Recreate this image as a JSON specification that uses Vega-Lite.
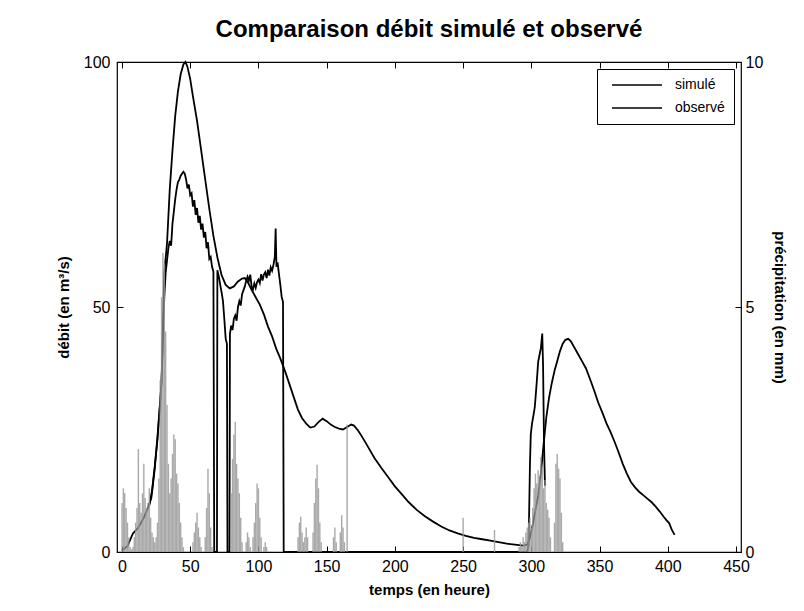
{
  "$schema": "https://vega.github.io/schema/vega-lite/v6.json",
  "width": 624,
  "height": 490,
  "autosize": {"type": "none"},
  "padding": {"left": 117, "top": 62, "right": 63, "bottom": 59},
  "background": "white",
  "config": {
    "font": "Liberation Sans",
    "view": {"stroke": "black", "strokeWidth": 1.2},
    "axis": {"grid": false, "domain": false, "tickColor": "black", "tickSize": -6, "tickWidth": 1, "labelColor": "black", "labelFontSize": 16, "titleFontSize": 15, "titleFontWeight": "bold", "titleColor": "black", "labelFlush": false},
    "legend": {"orient": "top-right", "offset": 7, "padding": 9, "strokeColor": "black", "fillColor": "white", "labelFontSize": 14, "labelColor": "black", "symbolType": "M-1,0H49", "symbolSize": 4, "symbolStrokeWidth": 1.5, "symbolStrokeColor": "black", "labelOffset": 55, "rowPadding": 9, "cornerRadius": 0}
  },
  "title": {"text": "Comparaison débit simulé et observé", "fontSize": 24, "fontWeight": "bold", "color": "black", "offset": 12, "anchor": "middle"},
  "datasets": {
    "debit": [
      {"t":0,"v":0.3,"s":"simulé"},{"t":4,"v":1.2,"s":"simulé"},{"t":8,"v":3.8,"s":"simulé"},{"t":12,"v":5,"s":"simulé"},{"t":16,"v":7,"s":"simulé"},{"t":19,"v":9,"s":"simulé"},{"t":21.5,"v":11,"s":"simulé"},{"t":24,"v":17,"s":"simulé"},{"t":26,"v":23.5,"s":"simulé"},{"t":28,"v":30.5,"s":"simulé"},{"t":29,"v":35,"s":"simulé"},{"t":30,"v":46,"s":"simulé"},{"t":31,"v":57,"s":"simulé"},{"t":33,"v":63,"s":"simulé"},{"t":35,"v":74,"s":"simulé"},{"t":37,"v":82,"s":"simulé"},{"t":39,"v":89,"s":"simulé"},{"t":41,"v":94,"s":"simulé"},{"t":43,"v":97.5,"s":"simulé"},{"t":45,"v":99.5,"s":"simulé"},{"t":46.5,"v":100,"s":"simulé"},{"t":48,"v":99,"s":"simulé"},{"t":50,"v":96.5,"s":"simulé"},{"t":52,"v":93,"s":"simulé"},{"t":55,"v":88,"s":"simulé"},{"t":58,"v":82,"s":"simulé"},{"t":61,"v":76,"s":"simulé"},{"t":64,"v":70,"s":"simulé"},{"t":67,"v":64.5,"s":"simulé"},{"t":70,"v":60,"s":"simulé"},{"t":73,"v":56.5,"s":"simulé"},{"t":76,"v":54.5,"s":"simulé"},{"t":79,"v":53.8,"s":"simulé"},{"t":82,"v":54.2,"s":"simulé"},{"t":85,"v":55.2,"s":"simulé"},{"t":88,"v":55.8,"s":"simulé"},{"t":90,"v":55.9,"s":"simulé"},{"t":92,"v":55.2,"s":"simulé"},{"t":95,"v":53.5,"s":"simulé"},{"t":98,"v":52,"s":"simulé"},{"t":101,"v":50.5,"s":"simulé"},{"t":104,"v":48.5,"s":"simulé"},{"t":107,"v":46,"s":"simulé"},{"t":110,"v":44,"s":"simulé"},{"t":113,"v":41.5,"s":"simulé"},{"t":116,"v":39.5,"s":"simulé"},{"t":120,"v":36.5,"s":"simulé"},{"t":123,"v":34,"s":"simulé"},{"t":126,"v":31.5,"s":"simulé"},{"t":129,"v":29,"s":"simulé"},{"t":132,"v":27.3,"s":"simulé"},{"t":135,"v":26.2,"s":"simulé"},{"t":138,"v":25.4,"s":"simulé"},{"t":141,"v":25.6,"s":"simulé"},{"t":144,"v":26.5,"s":"simulé"},{"t":147,"v":27.2,"s":"simulé"},{"t":150,"v":26.7,"s":"simulé"},{"t":153,"v":26,"s":"simulé"},{"t":156,"v":25.5,"s":"simulé"},{"t":159,"v":25.2,"s":"simulé"},{"t":162,"v":25,"s":"simulé"},{"t":165,"v":25.5,"s":"simulé"},{"t":168,"v":26,"s":"simulé"},{"t":170,"v":25.8,"s":"simulé"},{"t":173,"v":24.8,"s":"simulé"},{"t":176,"v":23.5,"s":"simulé"},{"t":180,"v":21.6,"s":"simulé"},{"t":185,"v":19.2,"s":"simulé"},{"t":190,"v":17.2,"s":"simulé"},{"t":195,"v":15.3,"s":"simulé"},{"t":200,"v":13.4,"s":"simulé"},{"t":205,"v":11.8,"s":"simulé"},{"t":210,"v":10.2,"s":"simulé"},{"t":216,"v":8.6,"s":"simulé"},{"t":222,"v":7.3,"s":"simulé"},{"t":228,"v":6.2,"s":"simulé"},{"t":234,"v":5.2,"s":"simulé"},{"t":240,"v":4.4,"s":"simulé"},{"t":246,"v":3.8,"s":"simulé"},{"t":252,"v":3.3,"s":"simulé"},{"t":258,"v":2.9,"s":"simulé"},{"t":264,"v":2.6,"s":"simulé"},{"t":270,"v":2.3,"s":"simulé"},{"t":276,"v":2,"s":"simulé"},{"t":282,"v":1.7,"s":"simulé"},{"t":288,"v":1.5,"s":"simulé"},{"t":294,"v":1.3,"s":"simulé"},{"t":297,"v":1.5,"s":"simulé"},{"t":299,"v":3,"s":"simulé"},{"t":301,"v":5.5,"s":"simulé"},{"t":303,"v":8.5,"s":"simulé"},{"t":305,"v":11.5,"s":"simulé"},{"t":307,"v":16,"s":"simulé"},{"t":309,"v":22,"s":"simulé"},{"t":311,"v":27.5,"s":"simulé"},{"t":313,"v":31.5,"s":"simulé"},{"t":315,"v":34.5,"s":"simulé"},{"t":317,"v":37,"s":"simulé"},{"t":319,"v":39,"s":"simulé"},{"t":321,"v":41,"s":"simulé"},{"t":323,"v":42.5,"s":"simulé"},{"t":325,"v":43.3,"s":"simulé"},{"t":327,"v":43.5,"s":"simulé"},{"t":329,"v":43,"s":"simulé"},{"t":331,"v":42,"s":"simulé"},{"t":334,"v":40.5,"s":"simulé"},{"t":337,"v":39,"s":"simulé"},{"t":340,"v":37.5,"s":"simulé"},{"t":343,"v":35.3,"s":"simulé"},{"t":346,"v":33,"s":"simulé"},{"t":349,"v":30.5,"s":"simulé"},{"t":352,"v":28.5,"s":"simulé"},{"t":355,"v":26.3,"s":"simulé"},{"t":358,"v":24.5,"s":"simulé"},{"t":361,"v":22.5,"s":"simulé"},{"t":364,"v":20.3,"s":"simulé"},{"t":367,"v":18,"s":"simulé"},{"t":370,"v":16,"s":"simulé"},{"t":373,"v":14.3,"s":"simulé"},{"t":376,"v":13.2,"s":"simulé"},{"t":379,"v":12.3,"s":"simulé"},{"t":382,"v":11.6,"s":"simulé"},{"t":385,"v":10.9,"s":"simulé"},{"t":388,"v":10.2,"s":"simulé"},{"t":391,"v":9.3,"s":"simulé"},{"t":394,"v":8.3,"s":"simulé"},{"t":397,"v":7.2,"s":"simulé"},{"t":399,"v":6.5,"s":"simulé"},{"t":401,"v":5.9,"s":"simulé"},{"t":402,"v":5.2,"s":"simulé"},{"t":403,"v":4.5,"s":"simulé"},{"t":404,"v":4,"s":"simulé"},{"t":405,"v":3.5,"s":"simulé"},
      {"t":20,"v":9.5,"s":"observé"},{"t":22,"v":12.5,"s":"observé"},{"t":24,"v":17.5,"s":"observé"},{"t":26,"v":23,"s":"observé"},{"t":28,"v":31,"s":"observé"},{"t":29,"v":34.5,"s":"observé"},{"t":30,"v":44,"s":"observé"},{"t":31,"v":52,"s":"observé"},{"t":32,"v":57,"s":"observé"},{"t":33,"v":59.5,"s":"observé"},{"t":34,"v":62,"s":"observé"},{"t":35,"v":63.5,"s":"observé"},{"t":36,"v":62.5,"s":"observé"},{"t":37,"v":67,"s":"observé"},{"t":38,"v":69.5,"s":"observé"},{"t":39,"v":72,"s":"observé"},{"t":40,"v":74,"s":"observé"},{"t":41,"v":75.5,"s":"observé"},{"t":42,"v":76,"s":"observé"},{"t":43,"v":76.8,"s":"observé"},{"t":44,"v":77.2,"s":"observé"},{"t":45,"v":77.6,"s":"observé"},{"t":46,"v":77.2,"s":"observé"},{"t":47,"v":76,"s":"observé"},{"t":48,"v":74.2,"s":"observé"},{"t":49,"v":75,"s":"observé"},{"t":50,"v":72.8,"s":"observé"},{"t":51,"v":73.2,"s":"observé"},{"t":52,"v":70.5,"s":"observé"},{"t":53,"v":71.8,"s":"observé"},{"t":54,"v":68.8,"s":"observé"},{"t":55,"v":70.2,"s":"observé"},{"t":56,"v":67.2,"s":"observé"},{"t":57,"v":68.6,"s":"observé"},{"t":58,"v":65.8,"s":"observé"},{"t":59,"v":67,"s":"observé"},{"t":60,"v":64.2,"s":"observé"},{"t":61,"v":65.3,"s":"observé"},{"t":62,"v":62,"s":"observé"},{"t":63,"v":63.2,"s":"observé"},{"t":64,"v":59.8,"s":"observé"},{"t":65,"v":60.2,"s":"observé"},{"t":66,"v":58.2,"s":"observé"},{"t":67,"v":57.2,"s":"observé"},{"t":67.6,"v":0,"s":"observé"},{"t":69.6,"v":0,"s":"observé"},{"t":69.9,"v":57.5,"s":"observé"},{"t":71,"v":56.2,"s":"observé"},{"t":72,"v":54.5,"s":"observé"},{"t":73,"v":53,"s":"observé"},{"t":74,"v":51.2,"s":"observé"},{"t":75,"v":47.5,"s":"observé"},{"t":76,"v":43.5,"s":"observé"},{"t":76.9,"v":42.5,"s":"observé"},{"t":77.3,"v":0,"s":"observé"},{"t":78.8,"v":0,"s":"observé"},{"t":79.1,"v":44.5,"s":"observé"},{"t":80,"v":46.2,"s":"observé"},{"t":81,"v":45.3,"s":"observé"},{"t":82,"v":47.6,"s":"observé"},{"t":83,"v":48.3,"s":"observé"},{"t":84,"v":47.2,"s":"observé"},{"t":85,"v":50,"s":"observé"},{"t":86,"v":51.2,"s":"observé"},{"t":87,"v":50.3,"s":"observé"},{"t":88,"v":52.6,"s":"observé"},{"t":89,"v":53.4,"s":"observé"},{"t":90,"v":54.2,"s":"observé"},{"t":91,"v":55.3,"s":"observé"},{"t":92,"v":56.2,"s":"observé"},{"t":93,"v":55.4,"s":"observé"},{"t":94,"v":56.6,"s":"observé"},{"t":95,"v":54.2,"s":"observé"},{"t":96,"v":53.6,"s":"observé"},{"t":97,"v":54.8,"s":"observé"},{"t":98,"v":53.9,"s":"observé"},{"t":99,"v":55.1,"s":"observé"},{"t":100,"v":55.6,"s":"observé"},{"t":101,"v":54.9,"s":"observé"},{"t":102,"v":56.7,"s":"observé"},{"t":103,"v":55.4,"s":"observé"},{"t":104,"v":56.6,"s":"observé"},{"t":105,"v":57.1,"s":"observé"},{"t":106,"v":55.9,"s":"observé"},{"t":107,"v":57.6,"s":"observé"},{"t":108,"v":56.4,"s":"observé"},{"t":109,"v":58.1,"s":"observé"},{"t":110,"v":57.4,"s":"observé"},{"t":111,"v":58.6,"s":"observé"},{"t":112,"v":60.2,"s":"observé"},{"t":112.6,"v":66,"s":"observé"},{"t":113.2,"v":58.2,"s":"observé"},{"t":114,"v":59.1,"s":"observé"},{"t":115,"v":56.8,"s":"observé"},{"t":116,"v":54.6,"s":"observé"},{"t":117,"v":52.1,"s":"observé"},{"t":118,"v":51,"s":"observé"},{"t":118.5,"v":0,"s":"observé"},{"t":297,"v":0,"s":"observé"},{"t":298,"v":1.5,"s":"observé"},{"t":299,"v":18,"s":"observé"},{"t":299.6,"v":24,"s":"observé"},{"t":300.5,"v":26.2,"s":"observé"},{"t":301.5,"v":27.8,"s":"observé"},{"t":302.5,"v":29.5,"s":"observé"},{"t":303,"v":31.2,"s":"observé"},{"t":304,"v":34.8,"s":"observé"},{"t":305,"v":38.8,"s":"observé"},{"t":306,"v":40.2,"s":"observé"},{"t":307,"v":41.6,"s":"observé"},{"t":308,"v":44.6,"s":"observé"},{"t":308.6,"v":38,"s":"observé"},{"t":309.3,"v":22,"s":"observé"},{"t":310,"v":13.5,"s":"observé"}
    ],
    "pluie": [
      {"t":0,"p":1.0},{"t":1,"p":1.3},{"t":2,"p":1.2},{"t":3,"p":0.9},{"t":4,"p":0.6},{"t":5,"p":0.3},{"t":6,"p":0.1},{"t":7,"p":0.05},{"t":8,"p":0.1},{"t":9,"p":0.3},{"t":10,"p":0.6},{"t":11,"p":0.9},{"t":12,"p":2.1},{"t":13,"p":1.0},{"t":14,"p":0.8},{"t":15,"p":1.2},{"t":16,"p":1.8},{"t":17,"p":1.1},{"t":18,"p":0.9},{"t":19,"p":1.0},{"t":20,"p":1.3},{"t":21,"p":0.7},{"t":22,"p":0.4},{"t":23,"p":0.3},{"t":24,"p":0.2},{"t":25,"p":0.3},{"t":26,"p":0.6},{"t":27,"p":1.5},{"t":28,"p":3.5},{"t":29,"p":5.2},{"t":30,"p":6.1},{"t":31,"p":5.9},{"t":32,"p":4.5},{"t":33,"p":3.0},{"t":34,"p":1.8},{"t":35,"p":1.2},{"t":36,"p":1.5},{"t":37,"p":2.0},{"t":38,"p":2.4},{"t":39,"p":2.3},{"t":40,"p":1.6},{"t":41,"p":1.4},{"t":42,"p":1.0},{"t":43,"p":0.6},{"t":44,"p":0.3},{"t":45,"p":0.1},
      {"t":52,"p":0.2},{"t":53,"p":0.4},{"t":54,"p":0.6},{"t":55,"p":0.8},{"t":56,"p":0.5},{"t":57,"p":0.3},{"t":58,"p":0.1},{"t":61,"p":0.3},{"t":62,"p":0.9},{"t":63,"p":1.7},{"t":64,"p":1.2},{"t":65,"p":0.5},{"t":66,"p":0.1},
      {"t":80,"p":1.2},{"t":81,"p":1.9},{"t":82,"p":2.4},{"t":83,"p":2.66},{"t":84,"p":1.8},{"t":85,"p":1.5},{"t":86,"p":1.2},{"t":87,"p":0.7},{"t":88,"p":0.2},{"t":91,"p":0.2},{"t":92,"p":0.4},{"t":93,"p":0.3},{"t":94,"p":0.1},{"t":96,"p":0.3},{"t":97,"p":0.6},{"t":98,"p":1.0},{"t":99,"p":1.4},{"t":100,"p":1.3},{"t":101,"p":0.7},{"t":102,"p":0.3},{"t":104,"p":0.1},{"t":105,"p":0.2},{"t":106,"p":0.1},
      {"t":129,"p":0.3},{"t":130,"p":0.6},{"t":131,"p":0.72},{"t":132,"p":0.4},{"t":133,"p":0.2},{"t":134,"p":0.3},{"t":135,"p":0.5},{"t":136,"p":0.3},{"t":140,"p":0.4},{"t":141,"p":1.0},{"t":142,"p":1.5},{"t":143,"p":1.78},{"t":144,"p":1.3},{"t":145,"p":0.6},{"t":146,"p":0.2},{"t":155,"p":0.3},{"t":156,"p":0.5},{"t":157,"p":0.2},{"t":160,"p":0.4},{"t":161,"p":0.75},{"t":162,"p":0.5},{"t":163,"p":0.2},{"t":165,"p":2.6},
      {"t":250,"p":0.7},{"t":273,"p":0.45},
      {"t":291,"p":0.1},{"t":292,"p":0.2},{"t":293,"p":0.1},{"t":294,"p":0.3},{"t":295,"p":0.2},{"t":296,"p":0.4},{"t":297,"p":0.5},{"t":298,"p":0.6},{"t":299,"p":0.7},{"t":300,"p":0.5},{"t":301,"p":0.9},{"t":302,"p":1.3},{"t":303,"p":1.6},{"t":304,"p":1.4},{"t":305,"p":1.67},{"t":306,"p":1.5},{"t":307,"p":1.94},{"t":308,"p":1.7},{"t":309,"p":1.3},{"t":310,"p":1.47},{"t":311,"p":1.0},{"t":312,"p":0.86},{"t":313,"p":0.7},{"t":314,"p":0.3},{"t":317,"p":0.6},{"t":318,"p":1.8},{"t":319,"p":2.0},{"t":320,"p":1.7},{"t":321,"p":1.5},{"t":322,"p":0.8},{"t":323,"p":0.2}
    ]
  },
  "layer": [
    {
      "data": {"name": "debit"},
      "mark": {"type": "line", "strokeWidth": 1.8},
      "encoding": {
        "x": {"field": "t", "type": "quantitative", "scale": {"domain": [0, 450], "nice": false}, "axis": {"orient": "top", "labels": false, "title": null, "values": [0, 50, 100, 150, 200, 250, 300, 350, 400, 450]}},
        "y": {"field": "v", "type": "quantitative", "scale": {"domain": [0, 100], "nice": false}, "axis": {"orient": "left", "values": [0, 50, 100], "title": "débit (en m³/s)", "labelPadding": 13, "titlePadding": 12}},
        "color": {"field": "s", "type": "nominal", "scale": {"domain": ["simulé", "observé"], "range": ["black", "black"]}, "legend": {"title": null}}
      }
    },
    {
      "data": {"name": "pluie"},
      "mark": {"type": "bar", "width": 1.4, "color": "#9a9a9a", "opacity": 0.85},
      "encoding": {
        "x": {"field": "t", "type": "quantitative", "scale": {"domain": [0, 450], "nice": false}, "axis": {"orient": "bottom", "values": [0, 50, 100, 150, 200, 250, 300, 350, 400, 450], "title": "temps  (en heure)", "labelPadding": 12, "titlePadding": 8}},
        "y": {"field": "p", "type": "quantitative", "scale": {"domain": [0, 10], "nice": false}, "axis": {"orient": "right", "values": [0, 5, 10], "title": "précipitation  (en mm)", "labelPadding": 10, "titlePadding": 9}}
      }
    }
  ],
  "resolve": {"scale": {"y": "independent"}, "axis": {"x": "independent"}}
}
